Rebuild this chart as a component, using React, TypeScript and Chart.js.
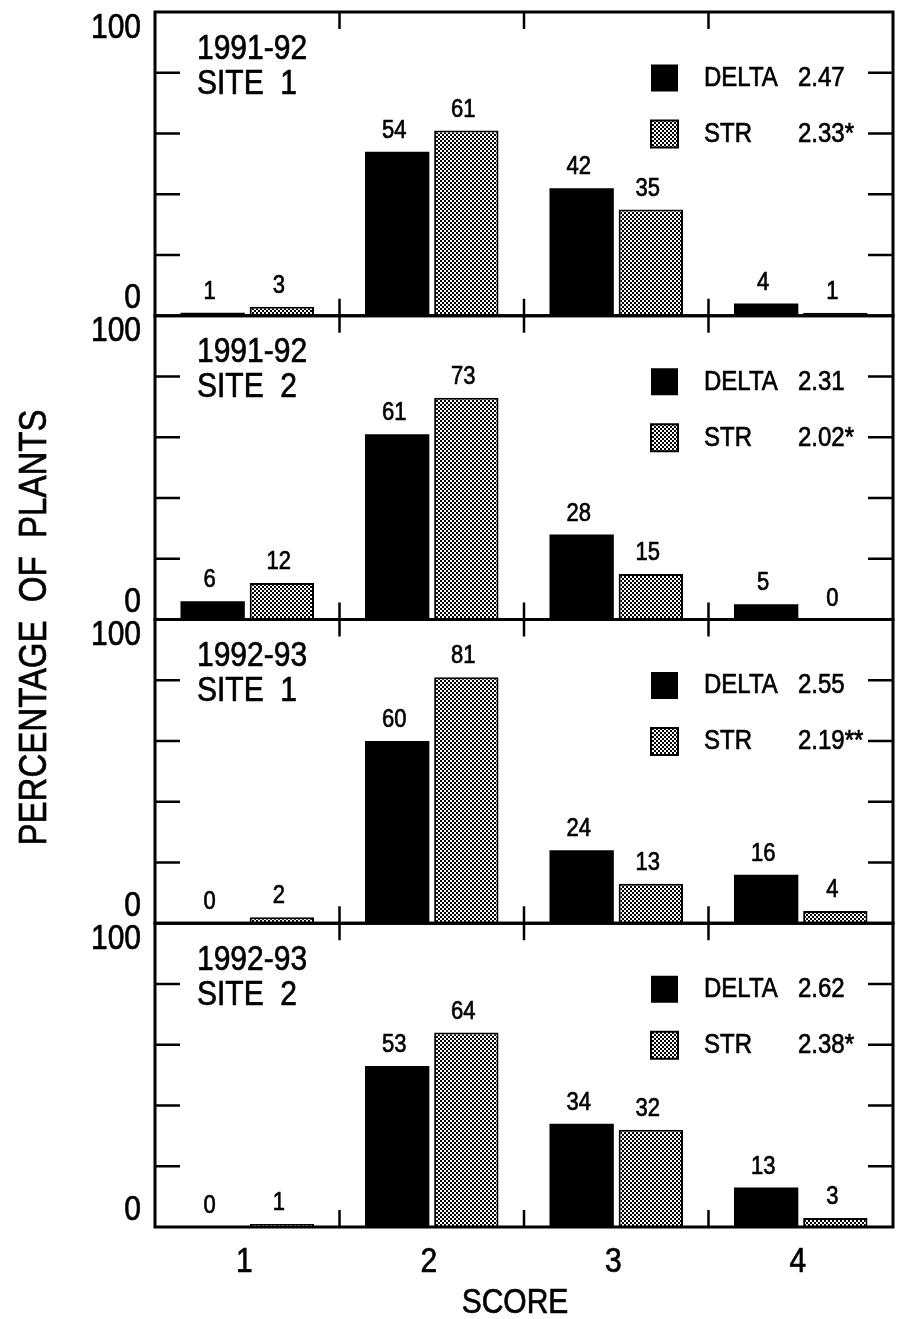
import React, { useEffect, useRef } from "react";
import { Chart, registerables } from "chart.js";

Chart.register(...registerables);

// ---- data ----
const scores = ["1", "2", "3", "4"];
const seriesNames = ["DELTA", "STR"];
const panelYears = ["1991-92", "1991-92", "1992-93", "1992-93"];
const panelSites = ["SITE  1", "SITE  2", "SITE  1", "SITE  2"];

const delta9192Site1 = [1, 54, 42, 4];
const str9192Site1 = [3, 61, 35, 1];
const delta9192Site2 = [6, 61, 28, 5];
const str9192Site2 = [12, 73, 15, 0];
const delta9293Site1 = [0, 60, 24, 16];
const str9293Site1 = [2, 81, 13, 4];
const delta9293Site2 = [0, 53, 34, 13];
const str9293Site2 = [1, 64, 32, 3];

const deltaMeans = ["2.47", "2.31", "2.55", "2.62"];
const strMeans = ["2.33*", "2.02*", "2.19**", "2.38*"];

const yInnerTicks = [20, 40, 60, 80];
const yEndLabels = ["0", "100"];
const xTitle = "SCORE";
const yTitle = "PERCENTAGE  OF  PLANTS";

const deltaPanels = [delta9192Site1, delta9192Site2, delta9293Site1, delta9293Site2];
const strPanels = [str9192Site1, str9192Site2, str9293Site1, str9293Site2];

const FONT = '"Liberation Sans", Arial, Helvetica, sans-serif';
const STRETCH = 1.17;

function makePattern(): CanvasPattern | string {
  const pc = document.createElement("canvas");
  pc.width = 4;
  pc.height = 4;
  const g = pc.getContext("2d");
  if (!g) return "#777";
  g.fillStyle = "#fff";
  g.fillRect(0, 0, 4, 4);
  g.fillStyle = "#000";
  g.fillRect(0, 0, 2, 2);
  g.fillRect(2, 2, 2, 2);
  const p = g.createPattern(pc, "repeat");
  return p || "#777";
}

function drawText(
  ctx: CanvasRenderingContext2D,
  text: string,
  x: number,
  y: number,
  size: number,
  align: CanvasTextAlign
) {
  ctx.save();
  ctx.translate(x, y);
  ctx.scale(1, STRETCH);
  ctx.font = `${size}px ${FONT}`;
  ctx.textAlign = align;
  ctx.textBaseline = "middle";
  ctx.fillStyle = "#000";
  ctx.strokeStyle = "#000";
  ctx.lineWidth = 0.6;
  ctx.fillText(text, 0, 0);
  ctx.strokeText(text, 0, 0);
  ctx.restore();
}

export default function App() {
  const canvasRef = useRef<HTMLCanvasElement | null>(null);

  useEffect(() => {
    const canvas = canvasRef.current;
    if (!canvas) return;
    const pattern = makePattern();

    const datasets: any[] = [];
    deltaPanels.forEach((vals, p) => {
      datasets.push({
        label: seriesNames[0],
        data: vals,
        yAxisID: "y" + p,
        stack: "DELTA",
        backgroundColor: "#000",
        borderColor: "#000",
        borderWidth: 0,
      });
      datasets.push({
        label: seriesNames[1],
        data: strPanels[p],
        yAxisID: "y" + p,
        stack: "STR",
        backgroundColor: pattern,
        borderColor: "#000",
        borderWidth: 2,
      });
    });

    const scales: any = {
      x: { type: "category", display: false, offset: true },
    };
    for (let p = 0; p < 4; p++) {
      scales["y" + p] = {
        type: "linear",
        display: false,
        position: "left",
        stack: "panels",
        stackWeight: 1,
        weight: 4 - p,
        stacked: false,
        min: 0,
        max: 100,
      };
    }

    const decor = {
      id: "decor",
      afterDraw(chart: any) {
        const ctx: CanvasRenderingContext2D = chart.ctx;
        const xs = chart.scales.x;
        const { left, right } = chart.chartArea;
        ctx.save();
        ctx.strokeStyle = "#000";
        ctx.fillStyle = "#000";
        ctx.lineCap = "butt";

        for (let p = 0; p < 4; p++) {
          const ys = chart.scales["y" + p];
          const top = ys.getPixelForValue(100);
          const bottom = ys.getPixelForValue(0);

          // frame
          ctx.lineWidth = 3;
          ctx.strokeRect(left, top, right - left, bottom - top);

          // y ticks inward, both sides
          ctx.lineWidth = 2.5;
          yInnerTicks.forEach((v) => {
            const py = ys.getPixelForValue(v);
            ctx.beginPath();
            ctx.moveTo(left, py);
            ctx.lineTo(left + 25, py);
            ctx.moveTo(right, py);
            ctx.lineTo(right - 25, py);
            ctx.stroke();
          });

          // x boundary ticks inward
          for (let i = 1; i < scores.length; i++) {
            const px = (xs.getPixelForValue(i - 1) + xs.getPixelForValue(i)) / 2;
            ctx.beginPath();
            ctx.moveTo(px, top);
            ctx.lineTo(px, top + 17);
            ctx.moveTo(px, bottom);
            ctx.lineTo(px, bottom - 17);
            ctx.stroke();
          }

          // y end labels
          drawText(ctx, yEndLabels[1], left - 14, top + 16, 30, "right");
          drawText(ctx, yEndLabels[0], left - 14, bottom - 17, 30, "right");

          // panel titles
          drawText(ctx, panelYears[p], left + 42, top + 37, 30, "left");
          drawText(ctx, panelSites[p], left + 42, top + 72, 30, "left");

          // legend
          const rowY = [top + 66, top + 122];
          const boxL = right - 242;
          const box = 27;
          ctx.fillStyle = "#000";
          ctx.fillRect(boxL, rowY[0] - box / 2, box, box);
          ctx.fillStyle = pattern as any;
          ctx.fillRect(boxL, rowY[1] - box / 2, box, box);
          ctx.lineWidth = 2;
          ctx.strokeRect(boxL, rowY[1] - box / 2, box, box);
          drawText(ctx, seriesNames[0], right - 189, rowY[0], 24, "left");
          drawText(ctx, seriesNames[1], right - 189, rowY[1], 24, "left");
          drawText(ctx, deltaMeans[p], right - 95, rowY[0], 24, "left");
          drawText(ctx, strMeans[p], right - 95, rowY[1], 24, "left");

          // value labels
          [2 * p, 2 * p + 1].forEach((di) => {
            const meta = chart.getDatasetMeta(di);
            const data = chart.data.datasets[di].data;
            meta.data.forEach((el: any, i: number) => {
              drawText(ctx, String(data[i]), el.x - 3, el.y - 21, 22, "center");
            });
          });
        }

        const lastBottom = chart.scales.y3.getPixelForValue(0);
        // x labels
        scores.forEach((s, i) => {
          drawText(ctx, s, xs.getPixelForValue(i) - 3, lastBottom + 35, 30, "center");
        });
        drawText(ctx, xTitle, (left + right) / 2 - 9, lastBottom + 76, 30, "center");

        // y title
        const midY = (chart.scales.y0.getPixelForValue(100) + lastBottom) / 2;
        ctx.save();
        ctx.translate(35, midY + 8);
        ctx.rotate(-Math.PI / 2);
        ctx.scale(1, STRETCH);
        ctx.font = `33px ${FONT}`;
        ctx.textAlign = "center";
        ctx.textBaseline = "middle";
        ctx.fillStyle = "#000";
        ctx.strokeStyle = "#000";
        ctx.lineWidth = 0.6;
        ctx.fillText(yTitle, 0, 0);
        ctx.strokeText(yTitle, 0, 0);
        ctx.restore();

        ctx.restore();
      },
    };

    const chart = new Chart(canvas, {
      type: "bar",
      data: { labels: scores, datasets },
      options: {
        responsive: false,
        animation: false,
        devicePixelRatio: 1,
        layout: { padding: { left: 155, right: 11, top: 12, bottom: 92 } },
        categoryPercentage: 0.75,
        barPercentage: 0.93,
        plugins: {
          legend: { display: false },
          tooltip: { enabled: false },
        },
        scales,
      } as any,
      plugins: [decor],
    });

    return () => chart.destroy();
  }, []);

  return (
    <div
      style={{
        position: "absolute",
        left: 0,
        top: 0,
        width: 904,
        height: 1319,
        background: "#fff",
      }}
    >
      <canvas ref={canvasRef} width={904} height={1319} style={{ width: 904, height: 1319, display: "block" }} />
    </div>
  );
}
